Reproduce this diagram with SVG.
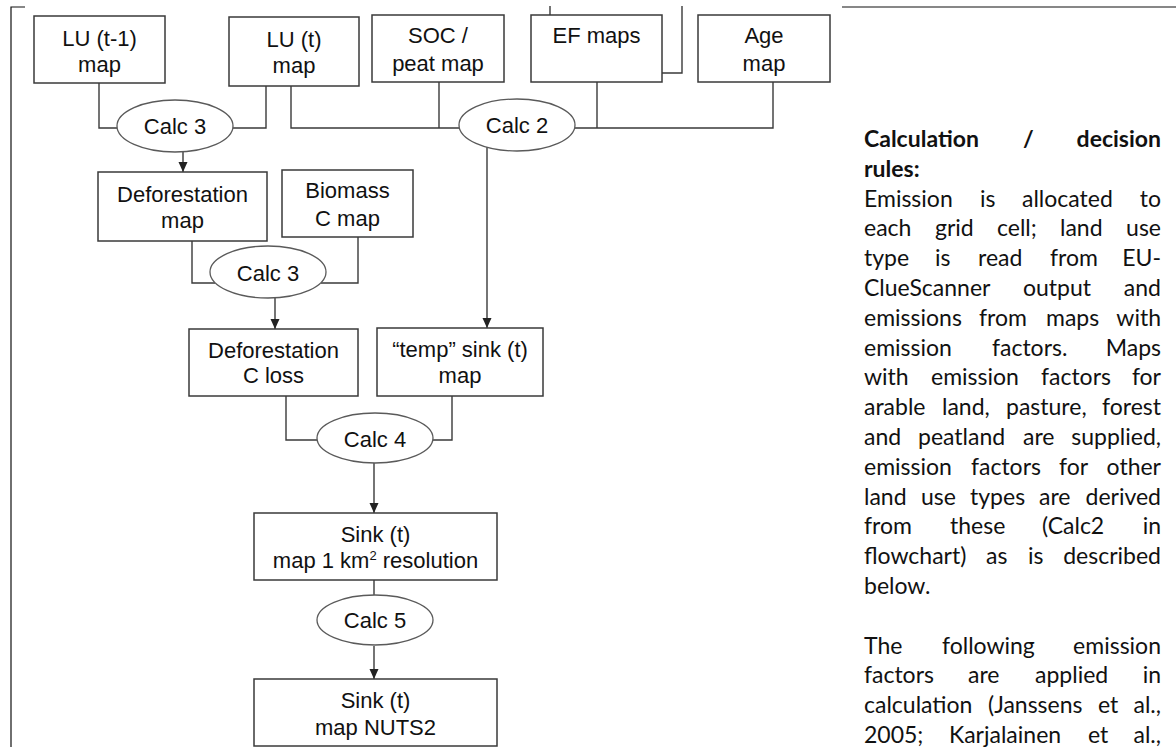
<svg xmlns="http://www.w3.org/2000/svg" width="1176" height="747" viewBox="0 0 1176 747">
<style>
.box{fill:#fff;stroke:#3a3a3a;stroke-width:1.5}
.ell{fill:#fff;stroke:#5a5a5a;stroke-width:1.3}
.lbl{font-family:"Liberation Sans",Arial,sans-serif;font-size:22px;fill:#111;text-anchor:middle}
.con{fill:none;stroke:#3a3a3a;stroke-width:1.4}
.page{fill:none;stroke:#111;stroke-width:1.2}
.body{font-family:Lato,"Noto Sans",sans-serif;font-size:23px;fill:#111}
.hd{font-weight:bold}
.e{text-anchor:end}
</style>
<defs>
<marker id="arr" markerUnits="userSpaceOnUse" markerWidth="10" markerHeight="10" viewBox="0 0 10 10" refX="10" refY="5" orient="auto">
<path d="M0,0.5 L10,5 L0,9.5 z" fill="#222"/>
</marker>
</defs>
<rect width="1176" height="747" fill="#fff"/>
<g id="page">
<path class="page" d="M11,747 V7 H25"/>
<path class="page" d="M842,7 H1176"/>
</g>
<g id="connectors">
<path class="con" d="M99,83 V128 H117"/>
<path class="con" d="M266,86 V128 H233"/>
<path class="con" d="M291,86 V128 H459"/>
<path class="con" d="M439,82 V128"/>
<path class="con" d="M575,128 H773 V82"/>
<path class="con" d="M597,82 V128"/>
<path class="con" d="M550,6 V15"/>
<path class="con" d="M662,73 H682 V6"/>
<path class="con" d="M183,152 V172" marker-end="url(#arr)"/>
<path class="con" d="M192,241 V283 H215"/>
<path class="con" d="M358,237 V283 H321"/>
<path class="con" d="M275,298 V329" marker-end="url(#arr)"/>
<path class="con" d="M487,147 V328" marker-end="url(#arr)"/>
<path class="con" d="M286,396 V440 H318"/>
<path class="con" d="M452,396 V440 H432"/>
<path class="con" d="M374,463 V513" marker-end="url(#arr)"/>
<path class="con" d="M374,580 V595"/>
<path class="con" d="M374,646 V679" marker-end="url(#arr)"/>
</g>
<g id="lu_t1"><rect class="box" x="34" y="16" width="131" height="67"/><text class="lbl" x="99.5" y="46">LU (t-1)</text><text class="lbl" x="99.5" y="72">map</text></g>
<g id="lu_t"><rect class="box" x="229" y="17" width="130" height="69"/><text class="lbl" x="294" y="47">LU (t)</text><text class="lbl" x="294" y="73">map</text></g>
<g id="soc"><rect class="box" x="372" y="15" width="132" height="67"/><text class="lbl" x="438" y="43">SOC /</text><text class="lbl" x="438" y="71">peat map</text></g>
<g id="ef"><rect class="box" x="531" y="15" width="131" height="67"/><text class="lbl" x="596.5" y="43">EF maps</text></g>
<g id="age"><rect class="box" x="698" y="15" width="132" height="67"/><text class="lbl" x="764" y="43">Age</text><text class="lbl" x="764" y="71">map</text></g>
<g id="calc3a"><ellipse class="ell" cx="175" cy="126" rx="58" ry="26"/><text class="lbl" x="175" y="134">Calc 3</text></g>
<g id="calc2"><ellipse class="ell" cx="517" cy="125" rx="58" ry="26"/><text class="lbl" x="517" y="133">Calc 2</text></g>
<g id="defmap"><rect class="box" x="98" y="172" width="169" height="69"/><text class="lbl" x="182.5" y="202">Deforestation</text><text class="lbl" x="182.5" y="228">map</text></g>
<g id="biomass"><rect class="box" x="282" y="170" width="131" height="67"/><text class="lbl" x="347.5" y="198">Biomass</text><text class="lbl" x="347.5" y="226">C map</text></g>
<g id="calc3b"><ellipse class="ell" cx="268" cy="272" rx="58" ry="26"/><text class="lbl" x="268" y="281">Calc 3</text></g>
<g id="closs"><rect class="box" x="189" y="329" width="169" height="67"/><text class="lbl" x="273.5" y="358">Deforestation</text><text class="lbl" x="273.5" y="383">C loss</text></g>
<g id="temp"><rect class="box" x="377" y="328" width="166" height="68"/><text class="lbl" x="460" y="357">“temp” sink (t)</text><text class="lbl" x="460" y="383">map</text></g>
<g id="calc4"><ellipse class="ell" cx="375" cy="438" rx="58" ry="25"/><text class="lbl" x="375" y="447">Calc 4</text></g>
<g id="sink1"><rect class="box" x="254" y="513" width="243" height="67"/><text class="lbl" x="375.5" y="542">Sink (t)</text><text class="lbl" x="375.5" y="568">map 1 km<tspan font-size="13" dy="-8">2</tspan><tspan dy="8"> resolution</tspan></text></g>
<g id="calc5"><ellipse class="ell" cx="375" cy="620" rx="58" ry="25"/><text class="lbl" x="375" y="628">Calc 5</text></g>
<g id="sink2"><rect class="box" x="254" y="679" width="243" height="67"/><text class="lbl" x="375.5" y="708">Sink (t)</text><text class="lbl" x="375.5" y="735">map NUTS2</text></g>
<g id="rules" class="body">
<text class="hd" x="864" y="147">Calculation</text><text class="hd" x="1023" y="147">/</text><text class="hd e" x="1161" y="147">decision</text>
<text class="hd" x="864" y="177">rules:</text>
<text x="864" y="207">Emission</text><text x="980" y="207">is</text><text x="1022" y="207">allocated</text><text class="e" x="1161" y="207">to</text>
<text x="864" y="236">each</text><text x="935" y="236">grid</text><text x="997" y="236">cell;</text><text x="1060" y="236">land</text><text class="e" x="1161" y="236">use</text>
<text x="864" y="266">type</text><text x="935" y="266">is</text><text x="978" y="266">read</text><text x="1050" y="266">from</text><text class="e" x="1161" y="266">EU-</text>
<text x="864" y="296">ClueScanner</text><text x="1023" y="296">output</text><text class="e" x="1161" y="296">and</text>
<text x="864" y="326">emissions</text><text x="979" y="326">from</text><text x="1046" y="326">maps</text><text class="e" x="1161" y="326">with</text>
<text x="864" y="356">emission</text><text x="992" y="356">factors.</text><text class="e" x="1161" y="356">Maps</text>
<text x="864" y="385">with</text><text x="931" y="385">emission</text><text x="1041" y="385">factors</text><text class="e" x="1161" y="385">for</text>
<text x="864" y="415">arable</text><text x="942" y="415">land,</text><text x="1006" y="415">pasture,</text><text class="e" x="1161" y="415">forest</text>
<text x="864" y="445">and</text><text x="918" y="445">peatland</text><text x="1023" y="445">are</text><text class="e" x="1161" y="445">supplied,</text>
<text x="864" y="475">emission</text><text x="971" y="475">factors</text><text x="1059" y="475">for</text><text class="e" x="1161" y="475">other</text>
<text x="864" y="505">land</text><text x="921" y="505">use</text><text x="970" y="505">types</text><text x="1039" y="505">are</text><text class="e" x="1161" y="505">derived</text>
<text x="864" y="534">from</text><text x="950" y="534">these</text><text x="1042" y="534">(Calc2</text><text class="e" x="1161" y="534">in</text>
<text x="864" y="564">flowchart)</text><text x="986" y="564">as</text><text x="1028" y="564">is</text><text class="e" x="1161" y="564">described</text>
<text x="864" y="594">below.</text>
<text x="864" y="654">The</text><text x="942" y="654">following</text><text class="e" x="1161" y="654">emission</text>
<text x="864" y="683">factors</text><text x="968" y="683">are</text><text x="1035" y="683">applied</text><text class="e" x="1161" y="683">in</text>
<text x="864" y="713">calculation</text><text x="988" y="713">(Janssens</text><text x="1098" y="713">et</text><text class="e" x="1161" y="713">al.,</text>
<text x="864" y="743">2005;</text><text x="949" y="743">Karjalainen</text><text x="1088" y="743">et</text><text class="e" x="1161" y="743">al.,</text>
</g>
</svg>
